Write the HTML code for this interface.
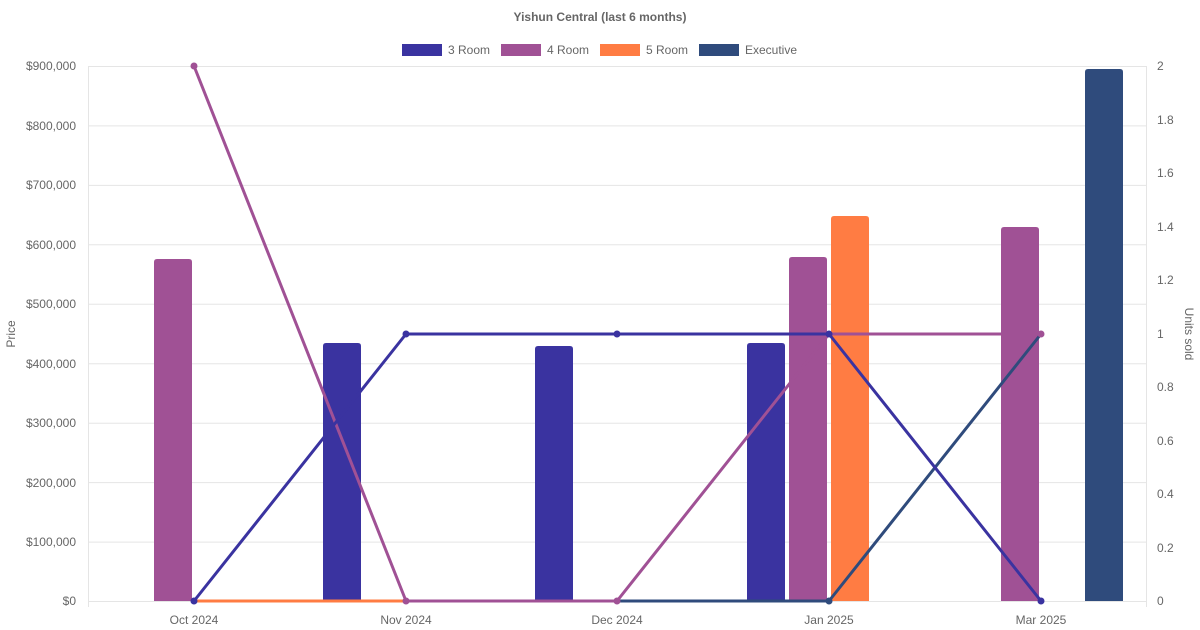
<!DOCTYPE html>
<html><head><meta charset="utf-8"><style>
body{margin:0;background:#fff;}
svg{display:block;font-family:"Liberation Sans",sans-serif;}
</style></head><body>
<svg width="1200" height="630" viewBox="0 0 1200 630" xmlns="http://www.w3.org/2000/svg">
<text x="600" y="21" text-anchor="middle" font-size="12" font-weight="bold" fill="#666">Yishun Central (last 6 months)</text>
<g font-size="12" fill="#666">
<rect x="402" y="44" width="40" height="12" fill="#3a33a0"/><text x="448" y="54">3 Room</text>
<rect x="501" y="44" width="40" height="12" fill="#a05195"/><text x="547" y="54">4 Room</text>
<rect x="600" y="44" width="40" height="12" fill="#ff7c43"/><text x="646" y="54">5 Room</text>
<rect x="699" y="44" width="40" height="12" fill="#2f4b7c"/><text x="745" y="54">Executive</text>
</g>
<g stroke="#e5e5e5" stroke-width="1">
<line x1="88" y1="66.5" x2="1147" y2="66.5"/><line x1="88" y1="125.9" x2="1147" y2="125.9"/>
<line x1="88" y1="185.4" x2="1147" y2="185.4"/><line x1="88" y1="244.8" x2="1147" y2="244.8"/>
<line x1="88" y1="304.3" x2="1147" y2="304.3"/><line x1="88" y1="363.7" x2="1147" y2="363.7"/>
<line x1="88" y1="423.2" x2="1147" y2="423.2"/><line x1="88" y1="482.6" x2="1147" y2="482.6"/>
<line x1="88" y1="542.1" x2="1147" y2="542.1"/><line x1="88" y1="601.5" x2="1147" y2="601.5"/>
<line x1="88.5" y1="66" x2="88.5" y2="607"/><line x1="1146.5" y1="66" x2="1146.5" y2="607"/>
</g>
<g font-size="12" fill="#666" text-anchor="end">
<text x="76" y="70">$900,000</text><text x="76" y="130">$800,000</text><text x="76" y="189">$700,000</text>
<text x="76" y="249">$600,000</text><text x="76" y="308">$500,000</text><text x="76" y="368">$400,000</text>
<text x="76" y="427">$300,000</text><text x="76" y="487">$200,000</text><text x="76" y="546">$100,000</text>
<text x="76" y="605">$0</text>
</g>
<g font-size="12" fill="#666" text-anchor="start">
<text x="1157" y="70">2</text><text x="1157" y="124">1.8</text><text x="1157" y="177">1.6</text>
<text x="1157" y="231">1.4</text><text x="1157" y="284">1.2</text><text x="1157" y="338">1</text>
<text x="1157" y="391">0.8</text><text x="1157" y="445">0.6</text><text x="1157" y="498">0.4</text>
<text x="1157" y="552">0.2</text><text x="1157" y="605">0</text>
</g>
<text transform="translate(15,334) rotate(-90)" text-anchor="middle" font-size="12" fill="#666">Price</text>
<text transform="translate(1185,334) rotate(90)" text-anchor="middle" font-size="12" fill="#666">Units sold</text>
<g font-size="12" fill="#666" text-anchor="middle">
<text x="194" y="624">Oct 2024</text><text x="406" y="624">Nov 2024</text><text x="617" y="624">Dec 2024</text>
<text x="829" y="624">Jan 2025</text><text x="1041" y="624">Mar 2025</text>
</g>
<g>
<path d="M154 601V262q0-3 3-3h32q3 0 3 3V601Z" fill="#a05195"/>
<path d="M323 601V346q0-3 3-3h32q3 0 3 3V601Z" fill="#3a33a0"/>
<path d="M535 601V349q0-3 3-3h32q3 0 3 3V601Z" fill="#3a33a0"/>
<path d="M747 601V346q0-3 3-3h32q3 0 3 3V601Z" fill="#3a33a0"/>
<path d="M789 601V260q0-3 3-3h32q3 0 3 3V601Z" fill="#a05195"/>
<path d="M831 601V219q0-3 3-3h32q3 0 3 3V601Z" fill="#ff7c43"/>
<path d="M1001 601V230q0-3 3-3h32q3 0 3 3V601Z" fill="#a05195"/>
<path d="M1085 601V72q0-3 3-3h32q3 0 3 3V601Z" fill="#2f4b7c"/>
</g>
<g fill="none" stroke-width="3" stroke-linejoin="round">
<polyline points="194,601 406,601" stroke="#ff7c43"/>
<polyline points="617,601 829,601 1041,334" stroke="#2f4b7c"/>
<polyline points="194,66 406,601 617,601 829,334 1041,334" stroke="#a05195"/>
<polyline points="617,601 829,601" stroke="#2f4b7c"/>
<polyline points="194,601 406,334 617,334 829,334 1041,601" stroke="#3a33a0"/>
</g>
<g>
<circle cx="829" cy="601" r="3.5" fill="#2f4b7c"/>
<circle cx="194" cy="66" r="3.5" fill="#a05195"/><circle cx="406" cy="601" r="3.5" fill="#a05195"/>
<circle cx="617" cy="601" r="3.5" fill="#a05195"/><circle cx="1041" cy="334" r="3.5" fill="#a05195"/>
<circle cx="194" cy="601" r="3.5" fill="#3a33a0"/><circle cx="406" cy="334" r="3.5" fill="#3a33a0"/>
<circle cx="617" cy="334" r="3.5" fill="#3a33a0"/><circle cx="829" cy="334" r="3.5" fill="#3a33a0"/>
<circle cx="1041" cy="601" r="3.5" fill="#3a33a0"/>
</g>
</svg>
</body></html>
